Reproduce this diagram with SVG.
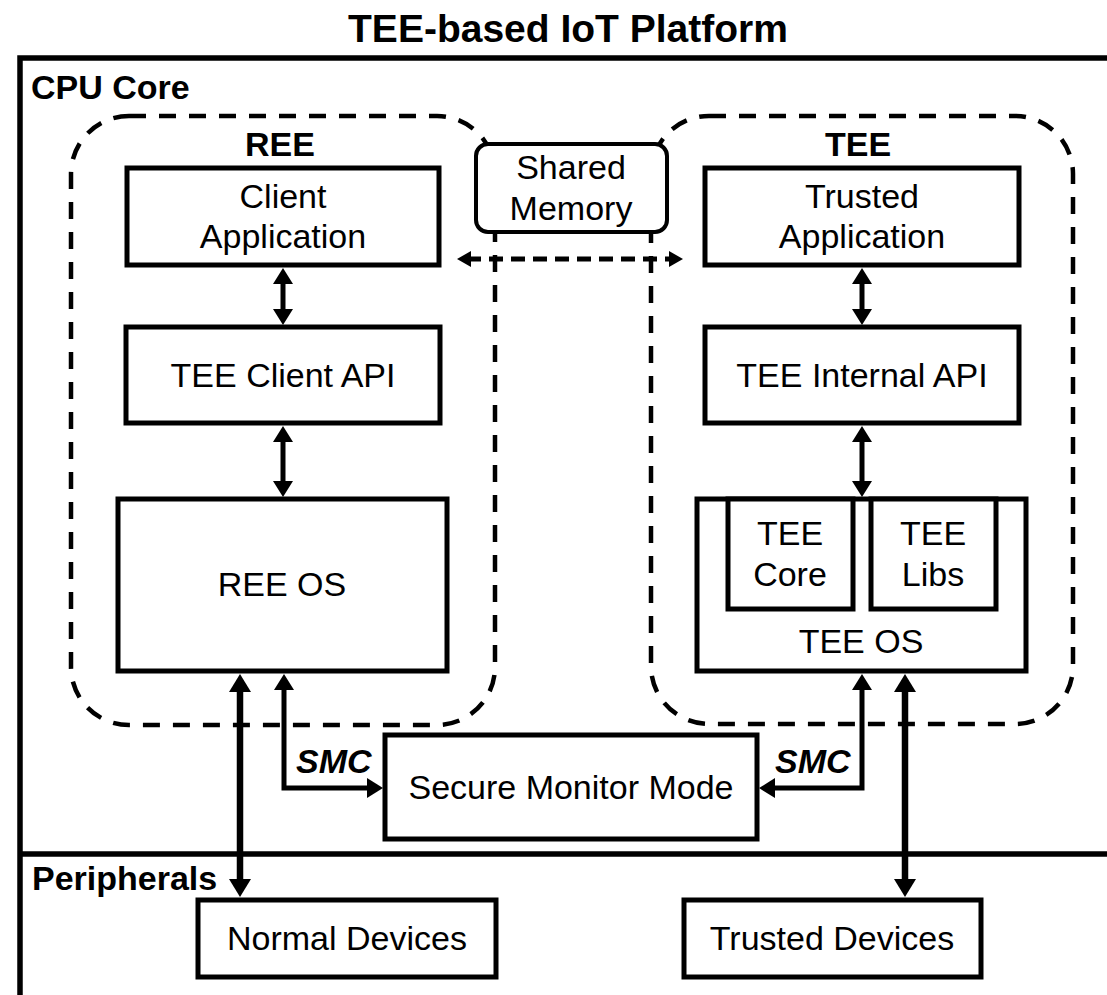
<svg xmlns="http://www.w3.org/2000/svg" width="1107" height="995" viewBox="0 0 1107 995">
<style>
text{font-family:"Liberation Sans",Arial,Helvetica,sans-serif;fill:#000}
.t{font-size:34px;text-anchor:middle}
.b{font-size:34px;font-weight:bold}
.bi{font-size:34px;font-weight:bold;font-style:italic}
.box{fill:#fff;stroke:#000;stroke-width:5}
.dash{fill:none;stroke:#000;stroke-width:4.5;stroke-dasharray:17 13}
.c{fill:none;stroke:#000;stroke-width:5;marker-start:url(#ah);marker-end:url(#ah)}
.ct{fill:none;stroke:#000;stroke-width:6.5;marker-start:url(#ahl);marker-end:url(#ahl)}
.cd{fill:none;stroke:#000;stroke-width:5;stroke-dasharray:14 8;marker-start:url(#ahs);marker-end:url(#ahs)}
</style>
<defs>
<marker id="ah" viewBox="0 0 16 20" refX="6" refY="10" markerWidth="16" markerHeight="20" markerUnits="userSpaceOnUse" orient="auto-start-reverse"><path d="M0,0 L16,10 L0,20 Z"/></marker>
<marker id="ahl" viewBox="0 0 18 22" refX="8" refY="11" markerWidth="18" markerHeight="22" markerUnits="userSpaceOnUse" orient="auto-start-reverse"><path d="M0,0 L18,11 L0,22 Z"/></marker>
<marker id="ahs" viewBox="0 0 14 16" refX="4" refY="8" markerWidth="14" markerHeight="16" markerUnits="userSpaceOnUse" orient="auto-start-reverse"><path d="M0,0 L14,8 L0,16 Z"/></marker>
</defs>
<rect width="1107" height="995" fill="#fff"/>
<text x="568" y="42" style="font-size:39px;font-weight:bold;text-anchor:middle">TEE-based IoT Platform</text>

<g id="platform">
<rect x="20" y="58" width="1120" height="960" fill="none" stroke="#000" stroke-width="5.5"/>
<line x1="20" y1="854" x2="1107" y2="854" stroke="#000" stroke-width="5.5"/>
</g>
<g id="cpu-core-label"><text class="b" x="31" y="99">CPU Core</text></g>
<g id="peripherals-label"><text class="b" x="32" y="890">Peripherals</text></g>

<g id="ree">
<rect class="dash" x="71" y="116" width="424" height="609" rx="58"/>
<text class="b" x="280" y="156" text-anchor="middle">REE</text>
</g>
<g id="tee">
<rect class="dash" x="651" y="116" width="422" height="608" rx="58"/>
<text class="b" x="858" y="156" text-anchor="middle">TEE</text>
</g>

<g id="shared-memory">
<rect x="476" y="144" width="191" height="88" rx="12" fill="#fff" stroke="#000" stroke-width="4"/>
<text class="t" x="571" y="179">Shared</text>
<text class="t" x="571" y="220">Memory</text>
</g>

<g id="client-application">
<rect class="box" x="127" y="168" width="312" height="97"/>
<text class="t" x="283" y="208">Client</text>
<text class="t" x="283" y="248">Application</text>
</g>
<g id="trusted-application">
<rect class="box" x="705" y="168" width="314" height="97"/>
<text class="t" x="862" y="208">Trusted</text>
<text class="t" x="862" y="248">Application</text>
</g>
<g id="tee-client-api">
<rect class="box" x="126" y="327" width="314" height="96"/>
<text class="t" x="283" y="387">TEE Client API</text>
</g>
<g id="tee-internal-api">
<rect class="box" x="705" y="327" width="314" height="96"/>
<text class="t" x="862" y="387">TEE Internal API</text>
</g>
<g id="ree-os">
<rect class="box" x="118" y="499" width="329" height="172"/>
<text class="t" x="282" y="596">REE OS</text>
</g>
<g id="tee-os">
<rect class="box" x="697" y="499" width="329" height="172"/>
<text class="t" x="861" y="653">TEE OS</text>
</g>
<g id="tee-core">
<rect class="box" x="728" y="499" width="125" height="110"/>
<text class="t" x="790" y="545">TEE</text>
<text class="t" x="790" y="586">Core</text>
</g>
<g id="tee-libs">
<rect class="box" x="871" y="499" width="125" height="110"/>
<text class="t" x="933" y="545">TEE</text>
<text class="t" x="933" y="586">Libs</text>
</g>
<g id="secure-monitor-mode">
<rect class="box" x="385" y="735" width="372" height="104"/>
<text class="t" x="571" y="799">Secure Monitor Mode</text>
</g>
<g id="normal-devices">
<rect class="box" x="198" y="900" width="298" height="77"/>
<text class="t" x="347" y="950">Normal Devices</text>
</g>
<g id="trusted-devices">
<rect class="box" x="684" y="900" width="297" height="77"/>
<text class="t" x="832" y="950">Trusted Devices</text>
</g>

<g id="connectors">
<line class="cd" x1="467" y1="259" x2="673" y2="259"/>
<line class="c" x1="283" y1="278" x2="283" y2="315"/>
<line class="c" x1="283" y1="436" x2="283" y2="487"/>
<line class="c" x1="862" y1="278" x2="862" y2="315"/>
<line class="c" x1="862" y1="436" x2="862" y2="487"/>
<line class="ct" x1="240" y1="684" x2="240" y2="887"/>
<line class="ct" x1="905" y1="684" x2="905" y2="887"/>
<path class="c" d="M284,684 V788 H373"/>
<path class="c" d="M862,684 V788 H769"/>
<text class="bi" x="296" y="773">SMC</text>
<text class="bi" x="775" y="773">SMC</text>
</g>
</svg>
